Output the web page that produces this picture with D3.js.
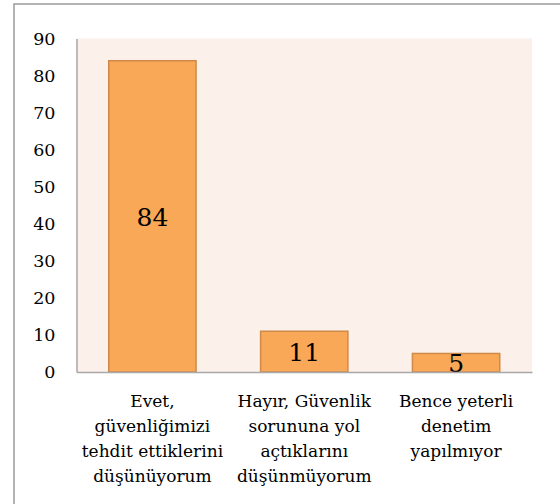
<!DOCTYPE html>
<html>
<head>
<meta charset="utf-8">
<script src="https://d3js.org/d3.v7.min.js"></script>
<style>
	body { margin: 0; background: #ffffff; }
	svg { display: block; }
</style>
</head>
<body>
<div id="chart"></div>
<script>
var width = 560,
	height = 504;

var FONT = '"DejaVu Serif", serif';

// chart data
var categories = [
	'Evet,\ngüvenliğimizi\ntehdit ettiklerini\ndüşünüyorum',
	'Hayır, Güvenlik\nsorununa yol\naçtıklarını\ndüşünmüyorum',
	'Bence yeterli\ndenetim\nyapılmıyor'
];
var values = [84, 11, 5];
var yTicks = [0, 10, 20, 30, 40, 50, 60, 70, 80, 90];

var margin = {left: 76.5, right: 28, top: 38.5, bottom: 132};

var svg = d3.select('#chart').append('svg')
	.attr('width', width)
	.attr('height', height);

// outer frame (runs off the right and bottom edges)
svg.append('rect')
	.attr('x', 14)
	.attr('y', 4)
	.attr('width', 600)
	.attr('height', 600)
	.style('fill', 'none')
	.style('stroke', '#9a9a9a')
	.style('stroke-width', 1.5);

var x = d3.scaleBand()
	.domain(categories)
	.range([margin.left, width - margin.right])
	.paddingInner(0.425)
	.paddingOuter(0.2125);

var y = d3.scaleLinear()
	.domain([0, 90])
	.range([height - margin.bottom, margin.top]);

// plot background
svg.append('rect')
	.attr('x', margin.left)
	.attr('y', margin.top)
	.attr('width', width - margin.right - margin.left)
	.attr('height', y(0) - margin.top)
	.style('fill', '#fcf0ea');

// bars
svg.append('g')
	.selectAll('rect.bar')
	.data(values)
	.enter()
	.append('rect')
	.classed('bar', true)
	.attr('x', (d, i) => x(categories[i]))
	.attr('y', d => y(d))
	.attr('width', x.bandwidth())
	.attr('height', d => y(0) - y(d))
	.style('fill', '#f9a857')
	.style('stroke', '#cf8a4a')
	.style('stroke-width', 1.5);

// value labels
svg.append('g')
	.selectAll('text')
	.data(values)
	.enter()
	.append('text')
	.attr('x', (d, i) => x(categories[i]) + x.bandwidth() / 2)
	.attr('y', d => (y(d) + y(0)) / 2)
	.attr('dy', '0.38em')
	.attr('text-anchor', 'middle')
	.style('font-family', FONT)
	.style('font-size', '25px')
	.text(d => d);

// y axis
var yAxis = svg.append('g')
	.attr('transform', 'translate(' + margin.left + ',0)')
	.call(d3.axisLeft(y).tickValues(yTicks).tickSize(0).tickPadding(21).tickSizeOuter(0));
yAxis.selectAll('text')
	.style('font-family', FONT)
	.style('font-size', '17.5px')
	.style('fill', '#000');
yAxis.select('.domain').style('stroke', '#a8a8a8').style('stroke-width', 1.5);

// x axis
var xAxis = svg.append('g')
	.attr('transform', 'translate(0,' + y(0) + ')')
	.call(d3.axisBottom(x).tickSize(0).tickSizeOuter(0).tickFormat(''));
xAxis.select('.domain').style('stroke', '#a8a8a8').style('stroke-width', 1.5);

// category labels, one tspan per line
xAxis.selectAll('.tick').each(function(d) {
	var t = d3.select(this).append('text')
		.attr('text-anchor', 'middle')
		.attr('y', 35)
		.style('font-family', FONT)
		.style('font-size', '17px')
		.style('fill', '#000');
	d.split('\n').forEach(function(line, i) {
		t.append('tspan')
			.attr('x', 0)
			.attr('dy', i === 0 ? 0 : 25)
			.text(line);
	});
});
</script>
</body>
</html>
